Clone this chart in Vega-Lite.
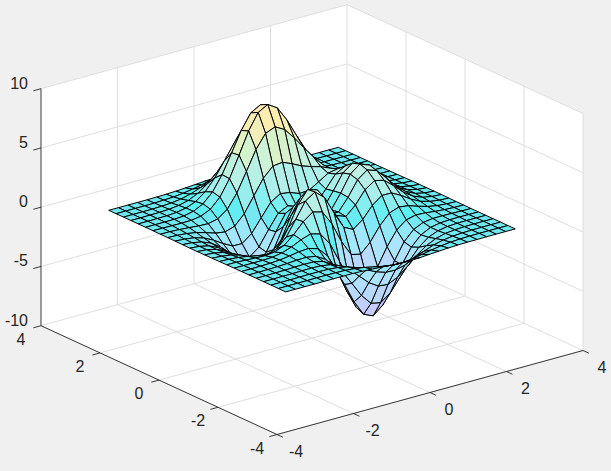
{"$schema":"https://vega.github.io/schema/vega-lite/v6.json","width":611,"height":471,"padding":0,"autosize":{"type":"fit","contains":"padding"},"background":"#f0f0f0","config":{"view":{"stroke":null}},
"datasets":{
"wall":[{"o":0,"x":-4,"y":4,"z":-10},{"o":1,"x":-4,"y":4,"z":10},{"o":2,"x":4,"y":4,"z":10},{"o":3,"x":4,"y":-4,"z":10},{"o":4,"x":4,"y":-4,"z":-10},{"o":5,"x":-4,"y":-4,"z":-10}],
"grid":[{"id":1,"x":-4,"y":-4,"z":-10},{"id":1,"x":-4,"y":4,"z":-10},{"id":2,"x":-2,"y":-4,"z":-10},{"id":2,"x":-2,"y":4,"z":-10},{"id":3,"x":0,"y":-4,"z":-10},{"id":3,"x":0,"y":4,"z":-10},{"id":4,"x":2,"y":-4,"z":-10},{"id":4,"x":2,"y":4,"z":-10},{"id":5,"x":4,"y":-4,"z":-10},{"id":5,"x":4,"y":4,"z":-10},
{"id":6,"x":-4,"y":-4,"z":-10},{"id":6,"x":4,"y":-4,"z":-10},{"id":7,"x":-4,"y":-2,"z":-10},{"id":7,"x":4,"y":-2,"z":-10},{"id":8,"x":-4,"y":0,"z":-10},{"id":8,"x":4,"y":0,"z":-10},{"id":9,"x":-4,"y":2,"z":-10},{"id":9,"x":4,"y":2,"z":-10},{"id":10,"x":-4,"y":4,"z":-10},{"id":10,"x":4,"y":4,"z":-10},
{"id":11,"x":-2,"y":4,"z":-10},{"id":11,"x":-2,"y":4,"z":10},{"id":12,"x":0,"y":4,"z":-10},{"id":12,"x":0,"y":4,"z":10},{"id":13,"x":2,"y":4,"z":-10},{"id":13,"x":2,"y":4,"z":10},{"id":14,"x":4,"y":4,"z":-10},{"id":14,"x":4,"y":4,"z":10},
{"id":15,"x":-4,"y":4,"z":-5},{"id":15,"x":4,"y":4,"z":-5},{"id":16,"x":-4,"y":4,"z":0},{"id":16,"x":4,"y":4,"z":0},{"id":17,"x":-4,"y":4,"z":5},{"id":17,"x":4,"y":4,"z":5},{"id":18,"x":-4,"y":4,"z":10},{"id":18,"x":4,"y":4,"z":10},
{"id":19,"x":4,"y":2,"z":-10},{"id":19,"x":4,"y":2,"z":10},{"id":20,"x":4,"y":0,"z":-10},{"id":20,"x":4,"y":0,"z":10},{"id":21,"x":4,"y":-2,"z":-10},{"id":21,"x":4,"y":-2,"z":10},{"id":22,"x":4,"y":-4,"z":-10},{"id":22,"x":4,"y":-4,"z":10},
{"id":23,"x":4,"y":-4,"z":-5},{"id":23,"x":4,"y":4,"z":-5},{"id":24,"x":4,"y":-4,"z":0},{"id":24,"x":4,"y":4,"z":0},{"id":25,"x":4,"y":-4,"z":5},{"id":25,"x":4,"y":4,"z":5},{"id":26,"x":4,"y":-4,"z":10},{"id":26,"x":4,"y":4,"z":10}],
"axes":[{"id":1,"x":-4,"y":4,"z":-10},{"id":1,"x":-4,"y":4,"z":10},{"id":2,"x":-4,"y":4,"z":-10},{"id":2,"x":-4,"y":-4,"z":-10},{"id":3,"x":-4,"y":-4,"z":-10},{"id":3,"x":4,"y":-4,"z":-10},
{"id":4,"x":-4,"y":4,"z":-10},{"id":4,"x":-4.2,"y":4,"z":-10},{"id":5,"x":-4,"y":4,"z":-5},{"id":5,"x":-4.2,"y":4,"z":-5},{"id":6,"x":-4,"y":4,"z":0},{"id":6,"x":-4.2,"y":4,"z":0},{"id":7,"x":-4,"y":4,"z":5},{"id":7,"x":-4.2,"y":4,"z":5},{"id":8,"x":-4,"y":4,"z":10},{"id":8,"x":-4.2,"y":4,"z":10},
{"id":9,"x":-4,"y":2,"z":-10},{"id":9,"x":-4.2,"y":2,"z":-10},{"id":10,"x":-4,"y":0,"z":-10},{"id":10,"x":-4.2,"y":0,"z":-10},{"id":11,"x":-4,"y":-2,"z":-10},{"id":11,"x":-4.2,"y":-2,"z":-10},{"id":12,"x":-4,"y":-4,"z":-10},{"id":12,"x":-4.2,"y":-4,"z":-10},
{"id":13,"x":-4,"y":-4,"z":-10},{"id":13,"x":-4,"y":-4.2,"z":-10},{"id":14,"x":-2,"y":-4,"z":-10},{"id":14,"x":-2,"y":-4.2,"z":-10},{"id":15,"x":0,"y":-4,"z":-10},{"id":15,"x":0,"y":-4.2,"z":-10},{"id":16,"x":2,"y":-4,"z":-10},{"id":16,"x":2,"y":-4.2,"z":-10},{"id":17,"x":4,"y":-4,"z":-10},{"id":17,"x":4,"y":-4.2,"z":-10}],
"labels":[{"a":"z","t":"10","x":-4,"y":4,"z":10},{"a":"z","t":"5","x":-4,"y":4,"z":5},{"a":"z","t":"0","x":-4,"y":4,"z":0},{"a":"z","t":"-5","x":-4,"y":4,"z":-5},{"a":"z","t":"-10","x":-4,"y":4,"z":-10},
{"a":"y","t":"4","x":-4,"y":4,"z":-10},{"a":"y","t":"2","x":-4,"y":2,"z":-10},{"a":"y","t":"0","x":-4,"y":0,"z":-10},{"a":"y","t":"-2","x":-4,"y":-2,"z":-10},{"a":"y","t":"-4","x":-4,"y":-4,"z":-10},
{"a":"x","t":"-4","x":-4,"y":-4,"z":-10},{"a":"x","t":"-2","x":-2,"y":-4,"z":-10},{"a":"x","t":"0","x":0,"y":-4,"z":-10},{"a":"x","t":"2","x":2,"y":-4,"z":-10},{"a":"x","t":"4","x":4,"y":-4,"z":-10}],
"surface":[
{"y":3,"x":3,"z":0},{"y":3,"x":2.75,"z":0},{"y":3,"x":2.5,"z":0},{"y":3,"x":2.25,"z":0},{"y":3,"x":2,"z":0.01},{"y":3,"x":1.75,"z":0.01},{"y":3,"x":1.5,"z":0.03},{"y":3,"x":1.25,"z":0.06},{"y":3,"x":1,"z":0.11},{"y":3,"x":0.75,"z":0.17},{"y":3,"x":0.5,"z":0.23},{"y":3,"x":0.25,"z":0.27},{"y":3,"x":0,"z":0.29},{"y":3,"x":-0.25,"z":0.27},{"y":3,"x":-0.5,"z":0.23},{"y":3,"x":-0.75,"z":0.17},{"y":3,"x":-1,"z":0.11},{"y":3,"x":-1.25,"z":0.06},{"y":3,"x":-1.5,"z":0.03},{"y":3,"x":-1.75,"z":0.01},{"y":3,"x":-2,"z":0},{"y":3,"x":-2.25,"z":0},{"y":3,"x":-2.5,"z":0},{"y":3,"x":-2.75,"z":0},{"y":3,"x":-3,"z":0},
{"y":2.75,"x":3,"z":0},{"y":2.75,"x":2.75,"z":0},{"y":2.75,"x":2.5,"z":0},{"y":2.75,"x":2.25,"z":0.01},{"y":2.75,"x":2,"z":0.02},{"y":2.75,"x":1.75,"z":0.04},{"y":2.75,"x":1.5,"z":0.09},{"y":2.75,"x":1.25,"z":0.17},{"y":2.75,"x":1,"z":0.3},{"y":2.75,"x":0.75,"z":0.47},{"y":2.75,"x":0.5,"z":0.64},{"y":2.75,"x":0.25,"z":0.77},{"y":2.75,"x":0,"z":0.82},{"y":2.75,"x":-0.25,"z":0.77},{"y":2.75,"x":-0.5,"z":0.64},{"y":2.75,"x":-0.75,"z":0.46},{"y":2.75,"x":-1,"z":0.3},{"y":2.75,"x":-1.25,"z":0.17},{"y":2.75,"x":-1.5,"z":0.08},{"y":2.75,"x":-1.75,"z":0.04},{"y":2.75,"x":-2,"z":0.01},{"y":2.75,"x":-2.25,"z":0},{"y":2.75,"x":-2.5,"z":0},{"y":2.75,"x":-2.75,"z":0},{"y":2.75,"x":-3,"z":0},
{"y":2.5,"x":3,"z":0},{"y":2.5,"x":2.75,"z":0},{"y":2.5,"x":2.5,"z":0.01},{"y":2.5,"x":2.25,"z":0.01},{"y":2.5,"x":2,"z":0.04},{"y":2.5,"x":1.75,"z":0.09},{"y":2.5,"x":1.5,"z":0.21},{"y":2.5,"x":1.25,"z":0.4},{"y":2.5,"x":1,"z":0.7},{"y":2.5,"x":0.75,"z":1.08},{"y":2.5,"x":0.5,"z":1.47},{"y":2.5,"x":0.25,"z":1.77},{"y":2.5,"x":0,"z":1.89},{"y":2.5,"x":-0.25,"z":1.77},{"y":2.5,"x":-0.5,"z":1.47},{"y":2.5,"x":-0.75,"z":1.07},{"y":2.5,"x":-1,"z":0.69},{"y":2.5,"x":-1.25,"z":0.39},{"y":2.5,"x":-1.5,"z":0.19},{"y":2.5,"x":-1.75,"z":0.08},{"y":2.5,"x":-2,"z":0.03},{"y":2.5,"x":-2.25,"z":0.01},{"y":2.5,"x":-2.5,"z":0},{"y":2.5,"x":-2.75,"z":0},{"y":2.5,"x":-3,"z":0},
{"y":2.25,"x":3,"z":0},{"y":2.25,"x":2.75,"z":0},{"y":2.25,"x":2.5,"z":0.01},{"y":2.25,"x":2.25,"z":0.03},{"y":2.25,"x":2,"z":0.08},{"y":2.25,"x":1.75,"z":0.19},{"y":2.25,"x":1.5,"z":0.41},{"y":2.25,"x":1.25,"z":0.79},{"y":2.25,"x":1,"z":1.36},{"y":2.25,"x":0.75,"z":2.09},{"y":2.25,"x":0.5,"z":2.84},{"y":2.25,"x":0.25,"z":3.43},{"y":2.25,"x":0,"z":3.65},{"y":2.25,"x":-0.25,"z":3.43},{"y":2.25,"x":-0.5,"z":2.84},{"y":2.25,"x":-0.75,"z":2.07},{"y":2.25,"x":-1,"z":1.32},{"y":2.25,"x":-1.25,"z":0.74},{"y":2.25,"x":-1.5,"z":0.36},{"y":2.25,"x":-1.75,"z":0.16},{"y":2.25,"x":-2,"z":0.06},{"y":2.25,"x":-2.25,"z":0.02},{"y":2.25,"x":-2.5,"z":0.01},{"y":2.25,"x":-2.75,"z":0},{"y":2.25,"x":-3,"z":0},
{"y":2,"x":3,"z":0},{"y":2,"x":2.75,"z":0.01},{"y":2,"x":2.5,"z":0.02},{"y":2,"x":2.25,"z":0.05},{"y":2,"x":2,"z":0.13},{"y":2,"x":1.75,"z":0.32},{"y":2,"x":1.5,"z":0.68},{"y":2,"x":1.25,"z":1.29},{"y":2,"x":1,"z":2.21},{"y":2,"x":0.75,"z":3.37},{"y":2,"x":0.5,"z":4.57},{"y":2,"x":0.25,"z":5.5},{"y":2,"x":0,"z":5.86},{"y":2,"x":-0.25,"z":5.51},{"y":2,"x":-0.5,"z":4.56},{"y":2,"x":-0.75,"z":3.31},{"y":2,"x":-1,"z":2.1},{"y":2,"x":-1.25,"z":1.16},{"y":2,"x":-1.5,"z":0.55},{"y":2,"x":-1.75,"z":0.23},{"y":2,"x":-2,"z":0.08},{"y":2,"x":-2.25,"z":0.02},{"y":2,"x":-2.5,"z":0.01},{"y":2,"x":-2.75,"z":0},{"y":2,"x":-3,"z":0},
{"y":1.75,"x":3,"z":0},{"y":1.75,"x":2.75,"z":0.01},{"y":1.75,"x":2.5,"z":0.03},{"y":1.75,"x":2.25,"z":0.08},{"y":1.75,"x":2,"z":0.21},{"y":1.75,"x":1.75,"z":0.47},{"y":1.75,"x":1.5,"z":0.96},{"y":1.75,"x":1.25,"z":1.78},{"y":1.75,"x":1,"z":2.96},{"y":1.75,"x":0.75,"z":4.45},{"y":1.75,"x":0.5,"z":5.99},{"y":1.75,"x":0.25,"z":7.2},{"y":1.75,"x":0,"z":7.68},{"y":1.75,"x":-0.25,"z":7.22},{"y":1.75,"x":-0.5,"z":5.96},{"y":1.75,"x":-0.75,"z":4.29},{"y":1.75,"x":-1,"z":2.67},{"y":1.75,"x":-1.25,"z":1.43},{"y":1.75,"x":-1.5,"z":0.65},{"y":1.75,"x":-1.75,"z":0.24},{"y":1.75,"x":-2,"z":0.07},{"y":1.75,"x":-2.25,"z":0.01},{"y":1.75,"x":-2.5,"z":0},{"y":1.75,"x":-2.75,"z":0},{"y":1.75,"x":-3,"z":0},
{"y":1.5,"x":3,"z":0},{"y":1.5,"x":2.75,"z":0.02},{"y":1.5,"x":2.5,"z":0.05},{"y":1.5,"x":2.25,"z":0.12},{"y":1.5,"x":2,"z":0.29},{"y":1.5,"x":1.75,"z":0.62},{"y":1.5,"x":1.5,"z":1.19},{"y":1.5,"x":1.25,"z":2.05},{"y":1.5,"x":1,"z":3.26},{"y":1.5,"x":0.75,"z":4.72},{"y":1.5,"x":0.5,"z":6.25},{"y":1.5,"x":0.25,"z":7.48},{"y":1.5,"x":0,"z":7.99},{"y":1.5,"x":-0.25,"z":7.54},{"y":1.5,"x":-0.5,"z":6.2},{"y":1.5,"x":-0.75,"z":4.38},{"y":1.5,"x":-1,"z":2.61},{"y":1.5,"x":-1.25,"z":1.28},{"y":1.5,"x":-1.5,"z":0.48},{"y":1.5,"x":-1.75,"z":0.11},{"y":1.5,"x":-2,"z":-0.01},{"y":1.5,"x":-2.25,"z":-0.03},{"y":1.5,"x":-2.5,"z":-0.02},{"y":1.5,"x":-2.75,"z":-0.01},{"y":1.5,"x":-3,"z":0},
{"y":1.25,"x":3,"z":0.01},{"y":1.25,"x":2.75,"z":0.03},{"y":1.25,"x":2.5,"z":0.07},{"y":1.25,"x":2.25,"z":0.19},{"y":1.25,"x":2,"z":0.41},{"y":1.25,"x":1.75,"z":0.79},{"y":1.25,"x":1.5,"z":1.35},{"y":1.25,"x":1.25,"z":2.09},{"y":1.25,"x":1,"z":2.97},{"y":1.25,"x":0.75,"z":3.97},{"y":1.25,"x":0.5,"z":5.02},{"y":1.25,"x":0.25,"z":5.94},{"y":1.25,"x":0,"z":6.39},{"y":1.25,"x":-0.25,"z":6.06},{"y":1.25,"x":-0.5,"z":4.92},{"y":1.25,"x":-0.75,"z":3.29},{"y":1.25,"x":-1,"z":1.69},{"y":1.25,"x":-1.25,"z":0.55},{"y":1.25,"x":-1.5,"z":-0.05},{"y":1.25,"x":-1.75,"z":-0.23},{"y":1.25,"x":-2,"z":-0.2},{"y":1.25,"x":-2.25,"z":-0.12},{"y":1.25,"x":-2.5,"z":-0.06},{"y":1.25,"x":-2.75,"z":-0.02},{"y":1.25,"x":-3,"z":-0.01},
{"y":1,"x":3,"z":0.01},{"y":1,"x":2.75,"z":0.04},{"y":1,"x":2.5,"z":0.11},{"y":1,"x":2.25,"z":0.28},{"y":1,"x":2,"z":0.58},{"y":1,"x":1.75,"z":1.04},{"y":1,"x":1.5,"z":1.58},{"y":1,"x":1.25,"z":2.08},{"y":1,"x":1,"z":2.43},{"y":1,"x":0.75,"z":2.66},{"y":1,"x":0.5,"z":2.94},{"y":1,"x":0.25,"z":3.34},{"y":1,"x":0,"z":3.69},{"y":1,"x":-0.25,"z":3.59},{"y":1,"x":-0.5,"z":2.79},{"y":1,"x":-0.75,"z":1.51},{"y":1,"x":-1,"z":0.23},{"y":1,"x":-1.25,"z":-0.6},{"y":1,"x":-1.5,"z":-0.86},{"y":1,"x":-1.75,"z":-0.74},{"y":1,"x":-2,"z":-0.48},{"y":1,"x":-2.25,"z":-0.25},{"y":1,"x":-2.5,"z":-0.11},{"y":1,"x":-2.75,"z":-0.04},{"y":1,"x":-3,"z":-0.01},
{"y":0.75,"x":3,"z":0.02},{"y":0.75,"x":2.75,"z":0.06},{"y":0.75,"x":2.5,"z":0.17},{"y":0.75,"x":2.25,"z":0.41},{"y":0.75,"x":2,"z":0.82},{"y":0.75,"x":1.75,"z":1.4},{"y":0.75,"x":1.5,"z":1.99},{"y":0.75,"x":1.25,"z":2.32},{"y":0.75,"x":1,"z":2.17},{"y":0.75,"x":0.75,"z":1.65},{"y":0.75,"x":0.5,"z":1.17},{"y":0.75,"x":0.25,"z":1.12},{"y":0.75,"x":0,"z":1.42},{"y":0.75,"x":-0.25,"z":1.55},{"y":0.75,"x":-0.5,"z":1.04},{"y":0.75,"x":-0.75,"z":-0.05},{"y":0.75,"x":-1,"z":-1.16},{"y":0.75,"x":-1.25,"z":-1.78},{"y":0.75,"x":-1.5,"z":-1.76},{"y":0.75,"x":-1.75,"z":-1.33},{"y":0.75,"x":-2,"z":-0.82},{"y":0.75,"x":-2.25,"z":-0.42},{"y":0.75,"x":-2.5,"z":-0.18},{"y":0.75,"x":-2.75,"z":-0.07},{"y":0.75,"x":-3,"z":-0.02},
{"y":0.5,"x":3,"z":0.03},{"y":0.5,"x":2.75,"z":0.08},{"y":0.5,"x":2.5,"z":0.23},{"y":0.5,"x":2.25,"z":0.55},{"y":0.5,"x":2,"z":1.09},{"y":0.5,"x":1.75,"z":1.85},{"y":0.5,"x":1.5,"z":2.56},{"y":0.5,"x":1.25,"z":2.83},{"y":0.5,"x":1,"z":2.38},{"y":0.5,"x":0.75,"z":1.34},{"y":0.5,"x":0.5,"z":0.38},{"y":0.5,"x":0.25,"z":0.09},{"y":0.5,"x":0,"z":0.46},{"y":0.5,"x":-0.25,"z":0.8},{"y":0.5,"x":-0.5,"z":0.39},{"y":0.5,"x":-0.75,"z":-0.76},{"y":0.5,"x":-1,"z":-2},{"y":0.5,"x":-1.25,"z":-2.64},{"y":0.5,"x":-1.5,"z":-2.49},{"y":0.5,"x":-1.75,"z":-1.85},{"y":0.5,"x":-2,"z":-1.12},{"y":0.5,"x":-2.25,"z":-0.57},{"y":0.5,"x":-2.5,"z":-0.25},{"y":0.5,"x":-2.75,"z":-0.09},{"y":0.5,"x":-3,"z":-0.03},
{"y":0.25,"x":3,"z":0.03},{"y":0.25,"x":2.75,"z":0.1},{"y":0.25,"x":2.5,"z":0.28},{"y":0.25,"x":2.25,"z":0.66},{"y":0.25,"x":2,"z":1.32},{"y":0.25,"x":1.75,"z":2.22},{"y":0.25,"x":1.5,"z":3.06},{"y":0.25,"x":1.25,"z":3.36},{"y":0.25,"x":1,"z":2.76},{"y":0.25,"x":0.75,"z":1.47},{"y":0.25,"x":0.5,"z":0.28},{"y":0.25,"x":0.25,"z":-0.03},{"y":0.25,"x":0,"z":0.52},{"y":0.25,"x":-0.25,"z":1.06},{"y":0.25,"x":-0.5,"z":0.68},{"y":0.25,"x":-0.75,"z":-0.65},{"y":0.25,"x":-1,"z":-2.15},{"y":0.25,"x":-1.25,"z":-2.98},{"y":0.25,"x":-1.5,"z":-2.87},{"y":0.25,"x":-1.75,"z":-2.16},{"y":0.25,"x":-2,"z":-1.32},{"y":0.25,"x":-2.25,"z":-0.67},{"y":0.25,"x":-2.5,"z":-0.29},{"y":0.25,"x":-2.75,"z":-0.11},{"y":0.25,"x":-3,"z":-0.04},
{"y":0,"x":3,"z":0.03},{"y":0,"x":2.75,"z":0.11},{"y":0,"x":2.5,"z":0.3},{"y":0,"x":2.25,"z":0.7},{"y":0,"x":2,"z":1.41},{"y":0,"x":1.75,"z":2.37},{"y":0,"x":1.5,"z":3.27},{"y":0,"x":1.25,"z":3.58},{"y":0,"x":1,"z":2.94},{"y":0,"x":0.75,"z":1.57},{"y":0,"x":0.5,"z":0.37},{"y":0,"x":0.25,"z":0.19},{"y":0,"x":0,"z":0.98},{"y":0,"x":-0.25,"z":1.75},{"y":0,"x":-0.5,"z":1.48},{"y":0,"x":-0.75,"z":0.06},{"y":0,"x":-1,"z":-1.65},{"y":0,"x":-1.25,"z":-2.71},{"y":0,"x":-1.5,"z":-2.77},{"y":0,"x":-1.75,"z":-2.14},{"y":0,"x":-2,"z":-1.33},{"y":0,"x":-2.25,"z":-0.69},{"y":0,"x":-2.5,"z":-0.3},{"y":0,"x":-2.75,"z":-0.11},{"y":0,"x":-3,"z":-0.04},
{"y":-0.25,"x":3,"z":0.03},{"y":-0.25,"x":2.75,"z":0.1},{"y":-0.25,"x":2.5,"z":0.28},{"y":-0.25,"x":2.25,"z":0.67},{"y":-0.25,"x":2,"z":1.34},{"y":-0.25,"x":1.75,"z":2.25},{"y":-0.25,"x":1.5,"z":3.09},{"y":-0.25,"x":1.25,"z":3.37},{"y":-0.25,"x":1,"z":2.76},{"y":-0.25,"x":0.75,"z":1.5},{"y":-0.25,"x":0.5,"z":0.48},{"y":-0.25,"x":0.25,"z":0.53},{"y":-0.25,"x":0,"z":1.58},{"y":-0.25,"x":-0.25,"z":2.63},{"y":-0.25,"x":-0.5,"z":2.56},{"y":-0.25,"x":-0.75,"z":1.23},{"y":-0.25,"x":-1,"z":-0.56},{"y":-0.25,"x":-1.25,"z":-1.84},{"y":-0.25,"x":-1.5,"z":-2.16},{"y":-0.25,"x":-1.75,"z":-1.78},{"y":-0.25,"x":-2,"z":-1.14},{"y":-0.25,"x":-2.25,"z":-0.6},{"y":-0.25,"x":-2.5,"z":-0.27},{"y":-0.25,"x":-2.75,"z":-0.1},{"y":-0.25,"x":-3,"z":-0.03},
{"y":-0.5,"x":3,"z":0.03},{"y":-0.5,"x":2.75,"z":0.09},{"y":-0.5,"x":2.5,"z":0.24},{"y":-0.5,"x":2.25,"z":0.56},{"y":-0.5,"x":2,"z":1.12},{"y":-0.5,"x":1.75,"z":1.88},{"y":-0.5,"x":1.5,"z":2.56},{"y":-0.5,"x":1.25,"z":2.76},{"y":-0.5,"x":1,"z":2.2},{"y":-0.5,"x":0.75,"z":1.14},{"y":-0.5,"x":0.5,"z":0.39},{"y":-0.5,"x":0.25,"z":0.7},{"y":-0.5,"x":0,"z":2},{"y":-0.5,"x":-0.25,"z":3.3},{"y":-0.5,"x":-0.5,"z":3.55},{"y":-0.5,"x":-0.75,"z":2.49},{"y":-0.5,"x":-1,"z":0.8},{"y":-0.5,"x":-1.25,"z":-0.6},{"y":-0.5,"x":-1.5,"z":-1.21},{"y":-0.5,"x":-1.75,"z":-1.16},{"y":-0.5,"x":-2,"z":-0.8},{"y":-0.5,"x":-2.25,"z":-0.44},{"y":-0.5,"x":-2.5,"z":-0.2},{"y":-0.5,"x":-2.75,"z":-0.08},{"y":-0.5,"x":-3,"z":-0.03},
{"y":-0.75,"x":3,"z":0.02},{"y":-0.75,"x":2.75,"z":0.06},{"y":-0.75,"x":2.5,"z":0.18},{"y":-0.75,"x":2.25,"z":0.41},{"y":-0.75,"x":2,"z":0.82},{"y":-0.75,"x":1.75,"z":1.35},{"y":-0.75,"x":1.5,"z":1.78},{"y":-0.75,"x":1.25,"z":1.79},{"y":-0.75,"x":1,"z":1.18},{"y":-0.75,"x":0.75,"z":0.2},{"y":-0.75,"x":0.5,"z":-0.41},{"y":-0.75,"x":0.25,"z":-0.01},{"y":-0.75,"x":0,"z":1.4},{"y":-0.75,"x":-0.25,"z":2.94},{"y":-0.75,"x":-0.5,"z":3.63},{"y":-0.75,"x":-0.75,"z":3.09},{"y":-0.75,"x":-1,"z":1.78},{"y":-0.75,"x":-1.25,"z":0.49},{"y":-0.75,"x":-1.5,"z":-0.28},{"y":-0.75,"x":-1.75,"z":-0.51},{"y":-0.75,"x":-2,"z":-0.42},{"y":-0.75,"x":-2.25,"z":-0.25},{"y":-0.75,"x":-2.5,"z":-0.12},{"y":-0.75,"x":-2.75,"z":-0.05},{"y":-0.75,"x":-3,"z":-0.02},
{"y":-1,"x":3,"z":0.01},{"y":-1,"x":2.75,"z":0.04},{"y":-1,"x":2.5,"z":0.11},{"y":-1,"x":2.25,"z":0.26},{"y":-1,"x":2,"z":0.5},{"y":-1,"x":1.75,"z":0.77},{"y":-1,"x":1.5,"z":0.88},{"y":-1,"x":1.25,"z":0.58},{"y":-1,"x":1,"z":-0.27},{"y":-1,"x":0.75,"z":-1.43},{"y":-1,"x":0.5,"z":-2.22},{"y":-1,"x":0.25,"z":-2.02},{"y":-1,"x":0,"z":-0.72},{"y":-1,"x":-0.25,"z":1},{"y":-1,"x":-0.5,"z":2.23},{"y":-1,"x":-0.75,"z":2.45},{"y":-1,"x":-1,"z":1.86},{"y":-1,"x":-1.25,"z":0.98},{"y":-1,"x":-1.5,"z":0.3},{"y":-1,"x":-1.75,"z":-0.04},{"y":-1,"x":-2,"z":-0.13},{"y":-1,"x":-2.25,"z":-0.1},{"y":-1,"x":-2.5,"z":-0.06},{"y":-1,"x":-2.75,"z":-0.02},{"y":-1,"x":-3,"z":-0.01},
{"y":-1.25,"x":3,"z":0.01},{"y":-1.25,"x":2.75,"z":0.02},{"y":-1.25,"x":2.5,"z":0.06},{"y":-1.25,"x":2.25,"z":0.13},{"y":-1.25,"x":2,"z":0.23},{"y":-1.25,"x":1.75,"z":0.27},{"y":-1.25,"x":1.5,"z":0.08},{"y":-1.25,"x":1.25,"z":-0.56},{"y":-1.25,"x":1,"z":-1.74},{"y":-1.25,"x":0.75,"z":-3.22},{"y":-1.25,"x":0.5,"z":-4.4},{"y":-1.25,"x":0.25,"z":-4.6},{"y":-1.25,"x":0,"z":-3.6},{"y":-1.25,"x":-0.25,"z":-1.84},{"y":-1.25,"x":-0.5,"z":-0.14},{"y":-1.25,"x":-0.75,"z":0.88},{"y":-1.25,"x":-1,"z":1.11},{"y":-1.25,"x":-1.25,"z":0.84},{"y":-1.25,"x":-1.5,"z":0.45},{"y":-1.25,"x":-1.75,"z":0.17},{"y":-1.25,"x":-2,"z":0.03},{"y":-1.25,"x":-2.25,"z":-0.01},{"y":-1.25,"x":-2.5,"z":-0.01},{"y":-1.25,"x":-2.75,"z":-0.01},{"y":-1.25,"x":-3,"z":0},
{"y":-1.5,"x":3,"z":0},{"y":-1.5,"x":2.75,"z":0.01},{"y":-1.5,"x":2.5,"z":0.03},{"y":-1.5,"x":2.25,"z":0.05},{"y":-1.5,"x":2,"z":0.04},{"y":-1.5,"x":1.75,"z":-0.07},{"y":-1.5,"x":1.5,"z":-0.44},{"y":-1.5,"x":1.25,"z":-1.27},{"y":-1.5,"x":1,"z":-2.64},{"y":-1.5,"x":0.75,"z":-4.32},{"y":-1.5,"x":0.5,"z":-5.76},{"y":-1.5,"x":0.25,"z":-6.33},{"y":-1.5,"x":0,"z":-5.68},{"y":-1.5,"x":-0.25,"z":-4.08},{"y":-1.5,"x":-0.5,"z":-2.19},{"y":-1.5,"x":-0.75,"z":-0.68},{"y":-1.5,"x":-1,"z":0.15},{"y":-1.5,"x":-1.25,"z":0.39},{"y":-1.5,"x":-1.5,"z":0.33},{"y":-1.5,"x":-1.75,"z":0.19},{"y":-1.5,"x":-2,"z":0.08},{"y":-1.5,"x":-2.25,"z":0.03},{"y":-1.5,"x":-2.5,"z":0.01},{"y":-1.5,"x":-2.75,"z":0},{"y":-1.5,"x":-3,"z":0},
{"y":-1.75,"x":3,"z":0},{"y":-1.75,"x":2.75,"z":0},{"y":-1.75,"x":2.5,"z":0.01},{"y":-1.75,"x":2.25,"z":0},{"y":-1.75,"x":2,"z":-0.05},{"y":-1.75,"x":1.75,"z":-0.2},{"y":-1.75,"x":1.5,"z":-0.61},{"y":-1.75,"x":1.25,"z":-1.42},{"y":-1.75,"x":1,"z":-2.69},{"y":-1.75,"x":0.75,"z":-4.24},{"y":-1.75,"x":0.5,"z":-5.64},{"y":-1.75,"x":0.25,"z":-6.33},{"y":-1.75,"x":0,"z":-5.98},{"y":-1.75,"x":-0.25,"z":-4.7},{"y":-1.75,"x":-0.5,"z":-3.01},{"y":-1.75,"x":-0.75,"z":-1.48},{"y":-1.75,"x":-1,"z":-0.46},{"y":-1.75,"x":-1.25,"z":0.02},{"y":-1.75,"x":-1.5,"z":0.15},{"y":-1.75,"x":-1.75,"z":0.13},{"y":-1.75,"x":-2,"z":0.07},{"y":-1.75,"x":-2.25,"z":0.03},{"y":-1.75,"x":-2.5,"z":0.01},{"y":-1.75,"x":-2.75,"z":0},{"y":-1.75,"x":-3,"z":0},
{"y":-2,"x":3,"z":0},{"y":-2,"x":2.75,"z":0},{"y":-2,"x":2.5,"z":0},{"y":-2,"x":2.25,"z":-0.01},{"y":-2,"x":2,"z":-0.06},{"y":-2,"x":1.75,"z":-0.2},{"y":-2,"x":1.5,"z":-0.53},{"y":-2,"x":1.25,"z":-1.15},{"y":-2,"x":1,"z":-2.1},{"y":-2,"x":0.75,"z":-3.27},{"y":-2,"x":0.5,"z":-4.35},{"y":-2,"x":0.25,"z":-4.93},{"y":-2,"x":0,"z":-4.76},{"y":-2,"x":-0.25,"z":-3.88},{"y":-2,"x":-0.5,"z":-2.64},{"y":-2,"x":-0.75,"z":-1.45},{"y":-2,"x":-1,"z":-0.59},{"y":-2,"x":-1.25,"z":-0.13},{"y":-2,"x":-1.5,"z":0.05},{"y":-2,"x":-1.75,"z":0.07},{"y":-2,"x":-2,"z":0.05},{"y":-2,"x":-2.25,"z":0.02},{"y":-2,"x":-2.5,"z":0.01},{"y":-2,"x":-2.75,"z":0},{"y":-2,"x":-3,"z":0},
{"y":-2.25,"x":3,"z":0},{"y":-2.25,"x":2.75,"z":0},{"y":-2.25,"x":2.5,"z":0},{"y":-2.25,"x":2.25,"z":-0.01},{"y":-2.25,"x":2,"z":-0.05},{"y":-2.25,"x":1.75,"z":-0.14},{"y":-2.25,"x":1.5,"z":-0.35},{"y":-2.25,"x":1.25,"z":-0.74},{"y":-2.25,"x":1,"z":-1.32},{"y":-2.25,"x":0.75,"z":-2.05},{"y":-2.25,"x":0.5,"z":-2.72},{"y":-2.25,"x":0.25,"z":-3.1},{"y":-2.25,"x":0,"z":-3.02},{"y":-2.25,"x":-0.25,"z":-2.51},{"y":-2.25,"x":-0.5,"z":-1.74},{"y":-2.25,"x":-0.75,"z":-1},{"y":-2.25,"x":-1,"z":-0.44},{"y":-2.25,"x":-1.25,"z":-0.12},{"y":-2.25,"x":-1.5,"z":0.01},{"y":-2.25,"x":-1.75,"z":0.04},{"y":-2.25,"x":-2,"z":0.03},{"y":-2.25,"x":-2.25,"z":0.01},{"y":-2.25,"x":-2.5,"z":0.01},{"y":-2.25,"x":-2.75,"z":0},{"y":-2.25,"x":-3,"z":0},
{"y":-2.5,"x":3,"z":0},{"y":-2.5,"x":2.75,"z":0},{"y":-2.5,"x":2.5,"z":0},{"y":-2.5,"x":2.25,"z":-0.01},{"y":-2.5,"x":2,"z":-0.03},{"y":-2.5,"x":1.75,"z":-0.08},{"y":-2.5,"x":1.5,"z":-0.19},{"y":-2.5,"x":1.25,"z":-0.38},{"y":-2.5,"x":1,"z":-0.69},{"y":-2.5,"x":0.75,"z":-1.06},{"y":-2.5,"x":0.5,"z":-1.41},{"y":-2.5,"x":0.25,"z":-1.61},{"y":-2.5,"x":0,"z":-1.57},{"y":-2.5,"x":-0.25,"z":-1.31},{"y":-2.5,"x":-0.5,"z":-0.92},{"y":-2.5,"x":-0.75,"z":-0.53},{"y":-2.5,"x":-1,"z":-0.24},{"y":-2.5,"x":-1.25,"z":-0.07},{"y":-2.5,"x":-1.5,"z":0},{"y":-2.5,"x":-1.75,"z":0.02},{"y":-2.5,"x":-2,"z":0.02},{"y":-2.5,"x":-2.25,"z":0.01},{"y":-2.5,"x":-2.5,"z":0},{"y":-2.5,"x":-2.75,"z":0},{"y":-2.5,"x":-3,"z":0},
{"y":-2.75,"x":3,"z":0},{"y":-2.75,"x":2.75,"z":0},{"y":-2.75,"x":2.5,"z":0},{"y":-2.75,"x":2.25,"z":0},{"y":-2.75,"x":2,"z":-0.01},{"y":-2.75,"x":1.75,"z":-0.03},{"y":-2.75,"x":1.5,"z":-0.08},{"y":-2.75,"x":1.25,"z":-0.17},{"y":-2.75,"x":1,"z":-0.3},{"y":-2.75,"x":0.75,"z":-0.46},{"y":-2.75,"x":0.5,"z":-0.61},{"y":-2.75,"x":0.25,"z":-0.69},{"y":-2.75,"x":0,"z":-0.68},{"y":-2.75,"x":-0.25,"z":-0.56},{"y":-2.75,"x":-0.5,"z":-0.39},{"y":-2.75,"x":-0.75,"z":-0.22},{"y":-2.75,"x":-1,"z":-0.1},{"y":-2.75,"x":-1.25,"z":-0.02},{"y":-2.75,"x":-1.5,"z":0},{"y":-2.75,"x":-1.75,"z":0.01},{"y":-2.75,"x":-2,"z":0.01},{"y":-2.75,"x":-2.25,"z":0},{"y":-2.75,"x":-2.5,"z":0},{"y":-2.75,"x":-2.75,"z":0},{"y":-2.75,"x":-3,"z":0},
{"y":-3,"x":3,"z":0},{"y":-3,"x":2.75,"z":0},{"y":-3,"x":2.5,"z":0},{"y":-3,"x":2.25,"z":0},{"y":-3,"x":2,"z":-0.01},{"y":-3,"x":1.75,"z":-0.01},{"y":-3,"x":1.5,"z":-0.03},{"y":-3,"x":1.25,"z":-0.06},{"y":-3,"x":1,"z":-0.11},{"y":-3,"x":0.75,"z":-0.16},{"y":-3,"x":0.5,"z":-0.22},{"y":-3,"x":0.25,"z":-0.25},{"y":-3,"x":0,"z":-0.24},{"y":-3,"x":-0.25,"z":-0.19},{"y":-3,"x":-0.5,"z":-0.13},{"y":-3,"x":-0.75,"z":-0.07},{"y":-3,"x":-1,"z":-0.03},{"y":-3,"x":-1.25,"z":0},{"y":-3,"x":-1.5,"z":0},{"y":-3,"x":-1.75,"z":0},{"y":-3,"x":-2,"z":0},{"y":-3,"x":-2.25,"z":0},{"y":-3,"x":-2.5,"z":0},{"y":-3,"x":-2.75,"z":0},{"y":-3,"x":-3,"z":0}
]},
"layer":[
{"data":{"name":"wall"},"transform":[{"calculate":"312+38.25*datum.x-29.5*datum.y","as":"sx"},{"calculate":"219.6-10.5*datum.x-13.6*datum.y-11.85*datum.z","as":"sy"}],
"mark":{"type":"line","fill":"#ffffff","strokeWidth":0,"clip":false},
"encoding":{"x":{"field":"sx","type":"quantitative","scale":{"domain":[0,611],"nice":false,"zero":false},"axis":null},"y":{"field":"sy","type":"quantitative","scale":{"domain":[471,0],"nice":false,"zero":false},"axis":null},"order":{"field":"o"}}},
{"data":{"name":"grid"},"transform":[{"calculate":"312+38.25*datum.x-29.5*datum.y","as":"sx"},{"calculate":"219.6-10.5*datum.x-13.6*datum.y-11.85*datum.z","as":"sy"}],
"mark":{"type":"line","stroke":"#dedede","strokeWidth":1},
"encoding":{"x":{"field":"sx","type":"quantitative","axis":null},"y":{"field":"sy","type":"quantitative","axis":null},"detail":{"field":"id"}}},
{"data":{"name":"axes"},"transform":[{"calculate":"312+38.25*datum.x-29.5*datum.y","as":"sx"},{"calculate":"219.6-10.5*datum.x-13.6*datum.y-11.85*datum.z","as":"sy"}],
"mark":{"type":"line","stroke":"#262626","strokeWidth":0.9},
"encoding":{"x":{"field":"sx","type":"quantitative","axis":null},"y":{"field":"sy","type":"quantitative","axis":null},"detail":{"field":"id"}}},
{"data":{"name":"surface"},"transform":[
{"calculate":"[0,1,2,3,4]","as":"k"},{"flatten":["k"]},
{"calculate":"datum.x-((datum.k==1||datum.k==2)?0.25:0)","as":"cx"},{"calculate":"datum.y-((datum.k==2||datum.k==3)?0.25:0)","as":"cy"},
{"filter":"datum.cx>=-3&&datum.cy>=-3&&datum.cx<3&&datum.cy<3"},
{"calculate":"datum.cx+'_'+datum.cy","as":"cell"},
{"joinaggregate":[{"op":"mean","field":"z","as":"c"}],"groupby":["cell"]},
{"calculate":"312+38.25*datum.x-29.5*datum.y","as":"sx"},{"calculate":"219.6-10.5*datum.x-13.6*datum.y-11.85*datum.z","as":"sy"}],
"mark":{"type":"line","stroke":"#000000","strokeWidth":1,"strokeJoin":"round"},
"encoding":{"x":{"field":"sx","type":"quantitative","axis":null},"y":{"field":"sy","type":"quantitative","axis":null},"detail":{"field":"cell"},"order":{"field":"k"},
"fill":{"field":"c","type":"quantitative","legend":null,"scale":{"domain":[-6.5,-5,-3,-1.5,-0.5,0,0.4,1.2,2,3,4,5,6,7,8],"range":["#d2c8ff","#c4ccff","#b8dcff","#a8e6fc","#8ce8f6","#6ee8f0","#5cf0f2","#90eeee","#aeeeea","#bcf0e4","#cdf2d6","#e0f2c4","#f2efb8","#fbecb0","#fde8b4"]}}}},
{"data":{"name":"labels"},"transform":[{"filter":"datum.a=='z'"},{"calculate":"312+38.25*datum.x-29.5*datum.y","as":"sx"},{"calculate":"219.6-10.5*datum.x-13.6*datum.y-11.85*datum.z","as":"sy"}],
"mark":{"type":"text","font":"Liberation Sans","fontSize":16,"color":"#262626","align":"right","baseline":"middle","dx":-13,"dy":-5},
"encoding":{"x":{"field":"sx","type":"quantitative","axis":null},"y":{"field":"sy","type":"quantitative","axis":null},"text":{"field":"t"}}},
{"data":{"name":"labels"},"transform":[{"filter":"datum.a=='y'"},{"calculate":"312+38.25*datum.x-29.5*datum.y","as":"sx"},{"calculate":"219.6-10.5*datum.x-13.6*datum.y-11.85*datum.z","as":"sy"}],
"mark":{"type":"text","font":"Liberation Sans","fontSize":16,"color":"#262626","align":"center","baseline":"middle","dx":-20,"dy":14},
"encoding":{"x":{"field":"sx","type":"quantitative","axis":null},"y":{"field":"sy","type":"quantitative","axis":null},"text":{"field":"t"}}},
{"data":{"name":"labels"},"transform":[{"filter":"datum.a=='x'"},{"calculate":"312+38.25*datum.x-29.5*datum.y","as":"sx"},{"calculate":"219.6-10.5*datum.x-13.6*datum.y-11.85*datum.z","as":"sy"}],
"mark":{"type":"text","font":"Liberation Sans","fontSize":16,"color":"#262626","align":"center","baseline":"middle","dx":19,"dy":17},
"encoding":{"x":{"field":"sx","type":"quantitative","axis":null},"y":{"field":"sy","type":"quantitative","axis":null},"text":{"field":"t"}}}
]}
